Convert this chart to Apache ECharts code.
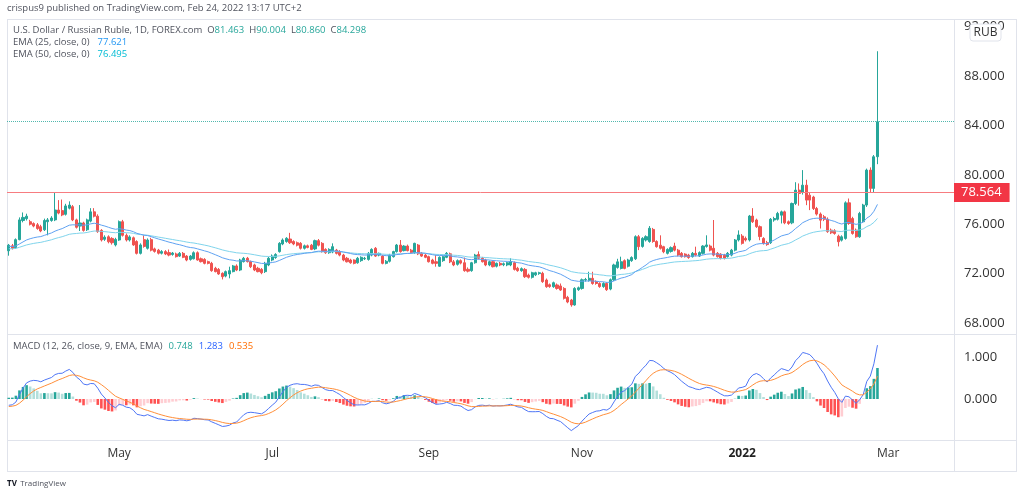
<!DOCTYPE html>
<html><head><meta charset="utf-8">
<script src="https://cdn.jsdelivr.net/npm/echarts@6/dist/echarts.min.js"></script>
<style>html,body{margin:0;padding:0;background:#fff}#c{width:1024px;height:496px}</style>
</head><body><div id="c"></div><script>
// ---- data ----
const firstDate = '2021-03-19';
const futureSlots = 21;
const opens = [73.85,74.25,74.10,74.75,76.30,76.45,76.20,76.05,75.95,75.80,
75.55,76.20,76.30,76.35,77.15,77.10,76.80,77.30,77.42,76.35,
75.85,76.10,75.55,76.25,77.00,76.65,75.50,74.78,74.98,74.85,
74.32,74.72,76.20,75.10,74.72,74.90,74.60,73.64,74.75,74.05,
74.75,74.00,73.90,73.65,73.78,73.70,73.55,73.59,73.42,73.64,
73.42,73.15,73.20,73.69,73.20,73.15,72.97,72.83,72.43,72.34,
72.02,71.80,71.97,72.16,72.62,72.29,72.97,73.24,72.97,72.70,
72.43,72.34,72.16,72.70,73.10,73.30,73.78,74.40,74.60,74.80,
74.60,74.50,74.45,74.05,74.25,74.30,74.00,74.67,74.45,73.96,
73.69,73.75,73.90,73.78,73.50,73.24,73.10,73.10,72.88,73.05,
73.20,73.15,73.50,74.05,73.50,73.42,72.83,73.00,73.37,73.78,
74.31,73.86,74.23,73.90,73.69,74.31,73.64,73.50,73.37,73.10,
72.96,72.60,73.05,73.32,73.60,72.95,72.75,73.05,72.88,72.35,
72.24,72.88,73.55,73.24,73.10,72.70,72.96,72.60,72.83,72.72,
72.70,72.70,72.88,72.43,72.24,72.34,71.88,71.70,71.90,72.00,
72.02,71.48,71.10,70.94,71.08,71.00,70.80,70.08,69.86,69.46,
70.70,70.80,71.48,71.45,71.62,71.35,71.20,70.95,71.20,70.75,
71.50,72.50,72.42,73.05,72.60,73.05,73.20,74.99,74.20,74.72,
74.60,75.58,74.60,74.30,74.18,73.64,73.80,74.23,73.90,73.64,
73.58,73.50,73.37,73.64,73.42,73.64,74.20,74.23,74.05,73.64,
73.58,73.50,73.37,73.50,73.90,74.72,75.04,74.85,74.72,76.66,
76.34,75.80,74.85,74.50,74.50,76.34,76.40,76.73,77.00,76.20,
76.11,77.68,78.76,78.60,79.16,78.35,78.20,77.27,76.82,76.60,
76.40,75.52,75.47,75.03,74.71,74.85,77.73,76.46,75.52,74.98,
76.20,77.55,80.38,78.90,81.463];
const highs = [74.40,74.40,74.85,76.55,76.95,76.85,76.35,76.15,76.10,75.95,
76.45,76.50,76.65,78.56,77.95,78.00,77.65,77.85,77.55,76.45,
77.55,76.20,76.45,77.30,77.30,76.80,75.60,75.10,75.10,74.95,
74.90,76.30,76.35,75.25,75.10,75.00,74.70,74.45,75.10,74.85,
74.90,74.10,74.00,73.90,73.90,73.95,73.75,73.70,73.75,73.75,
73.50,73.50,73.80,73.80,73.30,73.25,73.05,72.95,72.55,72.45,
72.10,72.25,72.56,72.70,72.75,73.20,73.35,73.35,73.05,72.80,
72.55,72.45,72.95,73.35,73.55,73.65,74.55,74.85,74.95,75.30,
74.70,74.60,74.55,74.35,74.35,74.40,74.75,74.80,74.55,74.05,
74.05,74.45,74.00,73.90,73.60,73.35,73.20,73.15,73.35,73.40,
73.35,73.75,74.05,74.15,73.70,73.50,73.10,73.60,73.85,74.40,
74.72,74.30,74.35,74.00,74.50,74.40,73.75,73.60,73.45,73.20,
73.50,73.40,73.45,73.75,73.70,73.10,73.15,73.15,73.30,72.50,
72.95,73.60,73.80,73.35,73.20,73.05,73.05,72.90,72.95,72.90,
72.95,73.24,72.98,72.55,72.50,72.45,72.00,72.15,72.15,72.15,
72.15,71.60,71.20,71.35,71.20,71.20,70.90,70.20,69.95,70.90,
70.95,71.60,71.65,72.15,72.15,71.45,71.30,71.30,71.30,71.60,
72.80,73.20,73.37,73.15,73.20,73.40,75.10,75.13,74.95,75.10,
75.85,75.70,74.70,75.10,74.25,74.05,74.20,74.50,74.00,73.75,
73.65,73.60,73.75,74.18,73.80,74.30,75.10,74.35,76.34,73.75,
73.65,73.60,73.75,74.00,74.80,75.50,75.20,75.00,76.75,77.30,
76.45,75.90,74.95,74.65,76.50,76.60,77.00,77.10,77.10,76.30,
77.75,79.40,79.30,80.38,79.60,78.60,78.30,77.40,76.95,76.75,
76.55,75.65,75.60,75.15,75.10,77.85,78.08,76.60,75.65,77.00,
77.65,80.50,80.60,81.60,90.004];
const lows = [73.45,73.95,74.00,74.70,76.15,76.30,75.90,75.75,75.55,75.35,
75.45,75.10,76.20,76.25,76.80,76.65,76.70,77.20,76.25,75.65,
75.45,75.40,75.45,76.15,76.55,75.30,74.60,74.65,74.45,74.35,
74.20,74.65,75.00,74.60,74.60,74.25,73.55,73.55,74.10,73.95,
73.80,73.70,73.55,73.55,73.50,73.40,73.45,73.30,73.35,73.25,
73.00,73.05,73.15,73.05,72.90,72.75,72.75,72.15,72.10,71.90,
71.53,71.70,71.62,72.10,72.20,72.20,72.90,72.90,72.45,72.20,
72.10,71.95,72.05,72.60,73.00,73.20,73.70,74.30,74.50,74.40,
74.30,74.20,73.95,73.95,74.05,73.90,73.90,74.20,73.70,73.60,
73.60,73.65,73.55,73.40,73.00,72.90,72.80,72.75,72.80,72.95,
73.10,73.05,73.40,73.35,73.40,72.75,72.75,72.90,73.30,73.70,
73.70,73.80,73.80,73.60,73.60,73.50,73.35,73.25,72.90,72.75,
72.56,72.55,72.95,73.25,72.85,72.60,72.65,72.75,72.15,72.10,
72.15,72.80,73.15,72.90,72.60,72.60,72.50,72.50,72.60,72.60,
72.60,72.60,72.25,72.15,72.15,71.65,71.60,71.60,71.80,71.90,
71.25,70.85,70.85,70.85,70.70,70.60,69.90,69.60,69.32,69.40,
70.60,70.70,71.35,71.35,71.10,71.10,70.85,70.85,70.60,70.65,
71.40,72.40,72.34,72.35,72.50,72.95,73.10,73.90,74.10,74.60,
74.50,74.50,74.10,73.95,73.65,73.55,73.70,73.80,73.40,73.30,
73.30,73.20,73.30,73.40,73.35,73.55,74.10,73.80,73.40,73.30,
73.15,73.15,73.30,73.40,73.80,74.60,74.35,74.60,74.60,76.10,
75.70,74.70,74.35,74.25,74.40,76.20,76.30,76.06,76.00,75.95,
76.00,77.55,77.50,78.40,77.54,77.14,77.15,76.70,75.65,76.25,
75.30,75.20,75.15,74.20,74.60,74.75,75.95,75.15,74.90,74.90,
76.10,77.40,78.60,78.60,80.86];
const closes = [74.30,74.05,74.75,76.35,76.55,76.65,76.00,75.85,75.65,75.45,
76.30,76.35,76.50,77.15,76.90,76.75,77.48,77.55,76.35,75.75,
76.10,75.50,76.35,77.00,76.65,75.40,74.72,74.95,74.58,74.50,
74.77,76.20,75.10,74.72,74.97,74.32,73.64,74.32,74.20,74.72,
73.90,73.80,73.65,73.78,73.59,73.50,73.66,73.37,73.64,73.32,
73.10,73.42,73.69,73.10,72.97,72.83,72.83,72.24,72.16,71.97,
71.75,72.16,72.24,72.62,72.29,73.10,73.24,72.97,72.56,72.29,
72.16,72.07,72.83,73.24,73.42,73.55,74.45,74.72,74.86,74.50,
74.40,74.30,74.05,74.25,74.12,73.96,74.67,74.30,73.78,73.69,
73.96,74.18,73.64,73.50,73.10,72.96,72.88,72.83,73.24,73.32,
73.24,73.64,73.96,73.42,73.64,72.83,73.00,73.50,73.78,74.31,
73.78,74.23,73.86,73.69,74.45,73.60,73.42,73.32,72.96,72.83,
72.83,73.32,73.37,73.64,72.95,72.70,73.05,72.85,72.24,72.20,
72.88,73.50,73.24,72.96,72.70,72.96,72.56,72.83,72.70,72.80,
72.88,72.96,72.34,72.24,72.40,71.75,71.70,72.07,72.07,72.07,
71.35,70.94,70.95,71.26,70.80,70.67,70.00,69.70,69.46,70.80,
70.85,71.50,71.52,71.62,71.20,71.20,70.95,71.20,70.70,71.50,
72.70,72.95,72.96,72.42,73.10,73.30,74.99,74.18,74.85,74.99,
75.67,74.60,74.18,74.05,73.77,73.96,74.10,73.90,73.50,73.37,
73.37,73.30,73.64,73.50,73.70,74.23,74.32,73.90,73.50,73.37,
73.24,73.24,73.64,73.90,74.72,75.13,74.45,74.72,76.66,76.20,
75.80,75.00,74.45,74.35,76.40,76.46,76.87,77.00,76.11,76.06,
77.68,78.76,78.49,79.16,77.95,77.95,77.27,76.82,76.33,76.40,
75.40,75.30,75.25,74.58,74.98,77.73,76.06,75.25,74.98,76.87,
77.55,80.38,78.90,81.46,84.298];
// indicator starting levels read at the first bar of the picture
const ema25Start = 74.20, ema50Start = 74.00;
const ema12Start = 74.00, ema26Start = 74.19, signalStart = -0.19;
const priceTicks = [68, 72, 76, 80, 84, 88, 92];
const macdTicks = [0, 1];
const monthLabels = {'2021-05-03':'May','2021-07-01':'Jul','2021-09-01':'Sep','2021-11-01':'Nov','2022-01-03':'2022','2022-03-01':'Mar'};
const levelLine = 78.564;
const lastPrice = 84.298;

// ---- calendar of trading days (weekdays) ----
const dates = [];
{
  const d = new Date(firstDate + 'T00:00:00Z');
  while (dates.length < closes.length + futureSlots) {
    const wd = d.getUTCDay();
    if (wd !== 0 && wd !== 6) dates.push(d.toISOString().slice(0, 10));
    d.setUTCDate(d.getUTCDate() + 1);
  }
}
function ema(src, period, start) {
  const k = 2 / (period + 1); let p = start;
  return src.map(v => (p = p + k * (v - p)));
}
const ema25 = ema(closes, 25, ema25Start).map(v => +v.toFixed(3));
const ema50 = ema(closes, 50, ema50Start).map(v => +v.toFixed(3));
const e12 = ema(closes, 12, ema12Start), e26 = ema(closes, 26, ema26Start);
const macd = e12.map((v, i) => v - e26[i]);
const signal = ema(macd, 9, signalStart);
const hist = macd.map((v, i) => v - signal[i]);
const histData = hist.map((h, i) => {
  const p = i > 0 ? hist[i - 1] : h;
  const c = h >= 0 ? (h >= p ? '#26a69a' : '#b2dfdb') : (h < p ? '#ff5252' : '#ffcdd2');
  return { value: +h.toFixed(4), itemStyle: { color: c } };
});
const candles = closes.map((c, i) => [opens[i], c, lows[i], highs[i]]);

const FONT = '"Open Sans", "DejaVu Sans", sans-serif';
const chart = echarts.init(document.getElementById('c'));
const frame = '#e0e3eb';
function hline(y, x1, x2) { return { type: 'line', silent: true, shape: { x1: x1, y1: y, x2: x2, y2: y }, style: { stroke: frame, lineWidth: 1 } }; }
function vline(x, y1, y2) { return { type: 'line', silent: true, shape: { x1: x, y1: y1, x2: x, y2: y2 }, style: { stroke: frame, lineWidth: 1 } }; }
const TXT = { fill: '#50535e', fontSize: 9.5, fontFamily: FONT };
function val(color, padL) { return { fill: color, fontSize: 9.5, fontFamily: FONT, padding: [0, 0, 0, padL || 0] }; }

chart.setOption({
  animation: false,
  backgroundColor: '#ffffff',
  grid: [
    { left: 7, right: 70, top: 19, height: 315 },
    { left: 7, right: 70, top: 335, height: 105 }
  ],
  xAxis: [
    { type: 'category', gridIndex: 0, data: dates, boundaryGap: true,
      axisLine: { show: false }, axisTick: { show: false }, axisLabel: { show: false }, splitLine: { show: false } },
    { type: 'category', gridIndex: 1, data: dates, boundaryGap: true,
      axisLine: { show: false }, axisTick: { show: false }, splitLine: { show: false },
      axisLabel: {
        show: true, margin: 8, hideOverlap: false,
        interval: (idx, v) => monthLabels[v] !== undefined,
        formatter: v => monthLabels[v] === '2022' ? '{b|2022}' : '{n|' + (monthLabels[v] || '') + '}',
        rich: {
          n: { fontFamily: FONT, fontSize: 12, color: '#333' },
          b: { fontFamily: FONT, fontSize: 12, fontWeight: 'bold', color: '#222' }
        }
      } }
  ],
  yAxis: [
    { type: 'value', gridIndex: 0, position: 'right', min: 67.11, max: 92.615, scale: true,
      axisLine: { show: false }, axisTick: { show: false }, splitLine: { show: false },
      axisLabel: { customValues: priceTicks, margin: 10, fontFamily: FONT, fontSize: 13, color: '#333', formatter: v => v.toFixed(3) } },
    { type: 'value', gridIndex: 1, position: 'right', min: -0.993, max: 1.55,
      axisLine: { show: false }, axisTick: { show: false }, splitLine: { show: false },
      axisLabel: { customValues: macdTicks, margin: 10, fontFamily: FONT, fontSize: 13, color: '#333', formatter: v => v.toFixed(3) } }
  ],
  series: [
    { type: 'line', name: 'EMA50', xAxisIndex: 0, yAxisIndex: 0, data: ema50, symbol: 'none', silent: true,
      lineStyle: { color: '#7fd4ec', width: 1 } },
    { type: 'line', name: 'EMA25', xAxisIndex: 0, yAxisIndex: 0, data: ema25, symbol: 'none', silent: true,
      lineStyle: { color: '#5fa2f2', width: 1 } },
    { type: 'candlestick', xAxisIndex: 0, yAxisIndex: 0, data: candles, barWidth: 2.6, silent: true,
      itemStyle: { color: '#26a69a', color0: '#ef5350', borderColor: '#26a69a', borderColor0: '#ef5350', borderWidth: 1 },
      markLine: { silent: true, symbol: ['none', 'none'], animation: false,
        data: [
          { yAxis: levelLine, lineStyle: { color: '#f77c80', width: 1, type: 'solid' },
            label: { show: true, position: 'end', distance: 0, formatter: levelLine.toFixed(3), color: '#fff',
              backgroundColor: '#f23645', padding: [3, 8, 3, 7], fontFamily: FONT, fontSize: 13 } },
          { yAxis: lastPrice, lineStyle: { color: '#26a69a', width: 1, type: 'dotted', opacity: 0.8 }, label: { show: false } }
        ] } },
    { type: 'bar', xAxisIndex: 1, yAxisIndex: 1, data: histData, barWidth: 2.6, silent: true },
    { type: 'line', xAxisIndex: 1, yAxisIndex: 1, data: macd.map(v => +v.toFixed(4)), symbol: 'none', silent: true,
      lineStyle: { color: '#4f76f6', width: 1 } },
    { type: 'line', xAxisIndex: 1, yAxisIndex: 1, data: signal.map(v => +v.toFixed(4)), symbol: 'none', silent: true,
      lineStyle: { color: '#ff8f3a', width: 1 } }
  ],
  graphic: [
    hline(19.5, 7, 1017), hline(334.5, 7, 1017), hline(440.5, 7, 1017), hline(471.5, 7, 1017),
    vline(7.5, 19, 472), vline(954.5, 19, 472), vline(1016.5, 19, 472),
    { type: 'text', left: 7, top: 3, silent: true,
      style: { text: 'crispus9 published on TradingView.com, Feb 24, 2022 13:17 UTC+2', fill: '#50535e', font: '9.5px ' + FONT } },
    { type: 'text', left: 13, top: 25, silent: true,
      style: { text: '{t|U.S. Dollar / Russian Ruble, 1D, FOREX.com}{k|O}{v|81.463}{k|H}{v|90.004}{k|L}{v|80.860}{k|C}{v|84.298}',
        font: '9.5px ' + FONT,
        rich: { t: TXT, k: { fill: '#50535e', fontSize: 9.5, fontFamily: FONT, padding: [0, 0, 0, 5] }, v: val('#26a69a') } } },
    { type: 'text', left: 13, top: 37, silent: true,
      style: { text: '{t|EMA (25, close, 0)}{v|77.621}', font: '9.5px ' + FONT,
        rich: { t: TXT, v: val('#2196f3', 8) } } },
    { type: 'text', left: 13, top: 49, silent: true,
      style: { text: '{t|EMA (50, close, 0)}{v|76.495}', font: '9.5px ' + FONT,
        rich: { t: TXT, v: val('#00bcd4', 8) } } },
    { type: 'text', left: 13, top: 341, silent: true,
      style: { text: '{t|MACD (12, 26, close, 9, EMA, EMA)}{h|0.748}{m|1.283}{s|0.535}', font: '9.5px ' + FONT,
        rich: { t: TXT, h: val('#26a69a', 6), m: val('#2962ff', 6), s: val('#ff6d00', 6) } } },
    { type: 'rect', silent: true, shape: { x: 970, y: 24, width: 31, height: 17, r: 3 }, style: { fill: '#fff', stroke: frame, lineWidth: 1 }, z: 100 },
    { type: 'text', silent: true, x: 985.5, y: 32.5, z: 101,
      style: { text: 'RUB', fill: '#333', font: '12px ' + FONT, textAlign: 'center', textVerticalAlign: 'middle' } },
    { type: 'text', left: 7, top: 478, silent: true,
      style: { text: '{l|TV} {t|TradingView}', rich: { l: { fill: '#131722', fontSize: 8, fontWeight: 'bold', fontFamily: FONT }, t: { fill: '#50535e', fontSize: 8, fontFamily: FONT } } } }
  ]
});
</script></body></html>
